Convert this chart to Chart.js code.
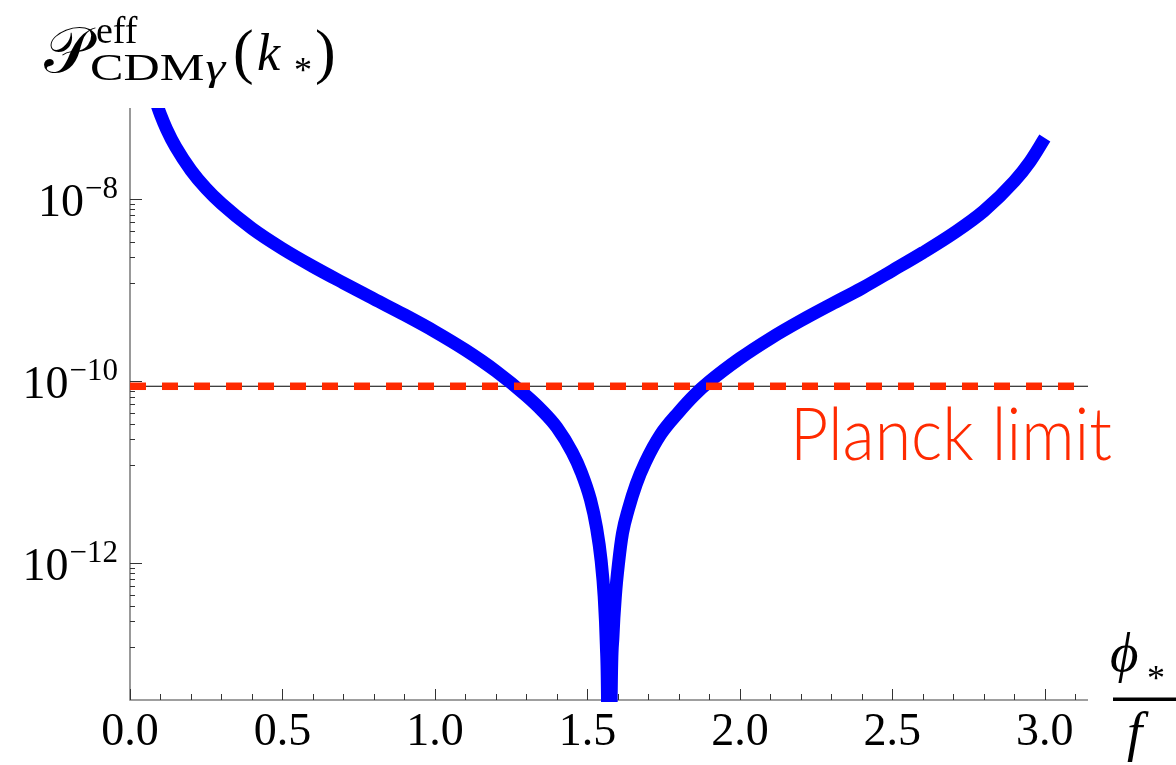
<!DOCTYPE html>
<html>
<head>
<meta charset="utf-8">
<script src="https://cdn.jsdelivr.net/npm/chart.js@4"></script>
<style>
  html, body { margin: 0; padding: 0; background: #fff; }
  #wrap { width: 1176px; height: 765px; }
</style>
</head>
<body>
<div id="wrap"><canvas id="chart" width="1176" height="765"></canvas></div>
<script>
// effective CDM-photon isocurvature power vs phi_*/f
const phiStar = [0.085, 0.10, 0.12, 0.15, 0.2, 0.25, 0.3, 0.4, 0.5, 0.6,
                 0.7, 0.8, 0.9, 1.0, 1.1, 1.2, 1.3, 1.35, 1.4, 1.45,
                 1.48, 1.51, 1.53, 1.545, 1.555, 1.562, 1.566, 1.5715, 1.578, 1.584,
                 1.592, 1.602, 1.615, 1.635, 1.66, 1.69, 1.74, 1.8, 1.85, 1.9,
                 2.0, 2.1, 2.2, 2.3, 2.4, 2.5, 2.6, 2.7, 2.8, 2.9,
                 2.95, 3.0];
const powerCDM = [1.17e-7, 8.45e-8, 5.85e-8, 3.72e-8, 2.07e-8, 1.30e-8, 8.9e-9, 4.75e-9, 2.85e-9, 1.82e-9,
                  1.20e-9, 8.0e-10, 5.36e-10, 3.51e-10, 2.20e-10, 1.29e-10, 6.9e-11, 4.8e-11, 3.1e-11, 1.66e-11,
                  1.0e-11, 5.0e-12, 2.45e-12, 1.07e-12, 4.3e-13, 1.29e-13, 3.0e-14, 1e-17, 3.5e-14, 1.62e-13,
                  4.5e-13, 1.0e-12, 2.14e-12, 4.0e-12, 7.4e-12, 1.29e-11, 2.6e-11, 4.6e-11, 7.0e-11, 9.9e-11,
                  1.78e-10, 2.95e-10, 4.62e-10, 7.0e-10, 1.05e-9, 1.64e-9, 2.58e-9, 4.2e-9, 7.4e-9, 1.57e-8,
                  2.54e-8, 4.68e-8];

const planckLimit = 8.8e-11;
const xMin = 0, xMax = Math.PI;
const yMin = 3.16e-14, yMax = 1e-7;

const xTicks = [0, 0.5, 1.0, 1.5, 2.0, 2.5, 3.0];
const xTickLabels = ["0.0", "0.5", "1.0", "1.5", "2.0", "2.5", "3.0"];
const yTicks = [1e-8, 1e-10, 1e-12];
const yTickExponents = ["\u22128", "\u221210", "\u221212"];

const SERIF = '"Liberation Serif", "Times New Roman", serif';

// minor ticks: tenths on x, nine linear steps between labelled decades on y
const xMinor = [];
for (let i = 1; i * 0.1 < xMax; i++) if (i % 5) xMinor.push(i * 0.1);
const yMinor = [];
[[1e-14, 1e-12], [1e-12, 1e-10], [1e-10, 1e-8], [1e-8, 1e-6]].forEach(([lo, hi]) => {
    for (let j = 1; j < 9; j++) {
        const v = lo + j * (hi - lo) / 9;
        if (v > yMin && v < yMax) yMinor.push(v);
    }
});

const frameAxes = {
    id: "frameAxes",
    beforeDatasetsDraw(chart) {
        const { ctx, chartArea: a, scales: { x, y } } = chart;
        ctx.save();
        ctx.strokeStyle = "#808080";
        ctx.lineWidth = 1.6;
        ctx.beginPath();
        ctx.moveTo(a.left, a.top);
        ctx.lineTo(a.left, a.bottom);
        ctx.lineTo(a.right, a.bottom);
        ctx.stroke();

        ctx.strokeStyle = "#333";
        ctx.lineWidth = 1;
        ctx.beginPath();
        xTicks.forEach(v => {
            const px = Math.round(x.getPixelForValue(v)) + 0.5;
            ctx.moveTo(px, a.bottom); ctx.lineTo(px, a.bottom - 11);
        });
        xMinor.forEach(v => {
            const px = Math.round(x.getPixelForValue(v)) + 0.5;
            ctx.moveTo(px, a.bottom); ctx.lineTo(px, a.bottom - 6);
        });
        yTicks.forEach(v => {
            const py = Math.round(y.getPixelForValue(v)) + 0.5;
            ctx.moveTo(a.left, py); ctx.lineTo(a.left + 12, py);
        });
        yMinor.forEach(v => {
            const py = Math.round(y.getPixelForValue(v)) + 0.5;
            ctx.moveTo(a.left, py); ctx.lineTo(a.left + 5, py);
        });
        ctx.stroke();
        ctx.restore();
    },
    afterDraw(chart) {
        const { ctx, chartArea: a, scales: { x, y } } = chart;
        ctx.save();
        ctx.fillStyle = "#000";

        // x tick labels
        ctx.font = "46px " + SERIF;
        ctx.textAlign = "center";
        ctx.textBaseline = "alphabetic";
        xTicks.forEach((v, i) => ctx.fillText(xTickLabels[i], x.getPixelForValue(v), a.bottom + 45));

        // y tick labels as 10 with raised exponent
        ctx.textAlign = "right";
        yTicks.forEach((v, i) => {
            const py = y.getPixelForValue(v);
            ctx.font = "31px " + SERIF;
            const ew = ctx.measureText(yTickExponents[i]).width;
            ctx.fillText(yTickExponents[i], 118, py - 1.5);
            ctx.font = "46px " + SERIF;
            ctx.fillText("10", 118 - ew - 1, py + 16.5);
        });

        // y axis title
        ctx.textAlign = "left";
        ctx.font = "64px " + SERIF;
        ctx.fillText("\u{1D4AB}", 44, 72);
        ctx.font = "38px " + SERIF;
        ctx.fillText("eff", 96, 43);
        ctx.save();
        ctx.translate(90, 80);
        ctx.scale(1.32, 1);
        ctx.fillText("CDM", 0, 0);
        const cdmW = ctx.measureText("CDM").width;
        ctx.font = "italic 38px " + SERIF;
        ctx.fillText("\u03b3", cdmW + 1, 0);
        ctx.restore();
        ctx.font = "62px " + SERIF;
        ctx.fillText("(", 233, 72);
        ctx.fillText(")", 315, 72);
        ctx.font = "italic 52px " + SERIF;
        ctx.fillText("k", 257, 70);
        ctx.font = "36px " + SERIF;
        ctx.fillText("*", 294, 82);

        // x axis title: phi_* over f
        ctx.font = "italic 55px " + SERIF;
        ctx.fillText("\u03d5", 1110, 671);
        ctx.font = "36px " + SERIF;
        ctx.fillText("*", 1147, 690);
        ctx.font = "italic 55px " + SERIF;
        ctx.fillText("f", 1127, 750);
        ctx.fillRect(1113, 697.5, 63, 3.5);

        // Planck limit label
        ctx.fillStyle = "#ff2a00";
        ctx.font = "300 72px Lato, sans-serif";
        const w = ctx.measureText("Planck limit").width;
        ctx.translate(790, 460);
        ctx.scale(322 / w, 1);
        ctx.fillText("Planck limit", 0, 0);
        ctx.restore();
    }
};

new Chart(document.getElementById("chart"), {
    type: "line",
    data: {
        datasets: [
            {
                label: "Planck limit",
                data: [{ x: xMin, y: planckLimit }, { x: xMax, y: planckLimit }],
                borderColor: "#ff2a00",
                borderWidth: 7.5,
                borderDash: [16, 16],
                borderCapStyle: "butt",
                pointRadius: 0,
                order: 0,
                clip: 0
            },
            {
                label: "P_eff",
                data: phiStar.map((p, i) => ({ x: p, y: powerCDM[i] })),
                borderColor: "#0000ff",
                borderWidth: 13,
                borderCapStyle: "butt",
                borderJoinStyle: "round",
                cubicInterpolationMode: "monotone",
                pointRadius: 0,
                order: 1,
                clip: { left: 0, top: 0, right: 0, bottom: 2 }
            },
            {
                label: "limit line",
                data: [{ x: xMin, y: planckLimit }, { x: xMax, y: planckLimit }],
                borderColor: "#000",
                borderWidth: 1.2,
                pointRadius: 0,
                order: 2,
                clip: 0
            }
        ]
    },
    options: {
        responsive: false,
        devicePixelRatio: 1,
        animation: false,
        layout: { padding: { left: 130, right: 88, top: 108, bottom: 65 } },
        scales: {
            x: { type: "linear", min: xMin, max: xMax, display: false },
            y: { type: "logarithmic", min: yMin, max: yMax, display: false }
        },
        plugins: { legend: { display: false }, tooltip: { enabled: false } }
    },
    plugins: [frameAxes]
});
</script>
</body>
</html>
